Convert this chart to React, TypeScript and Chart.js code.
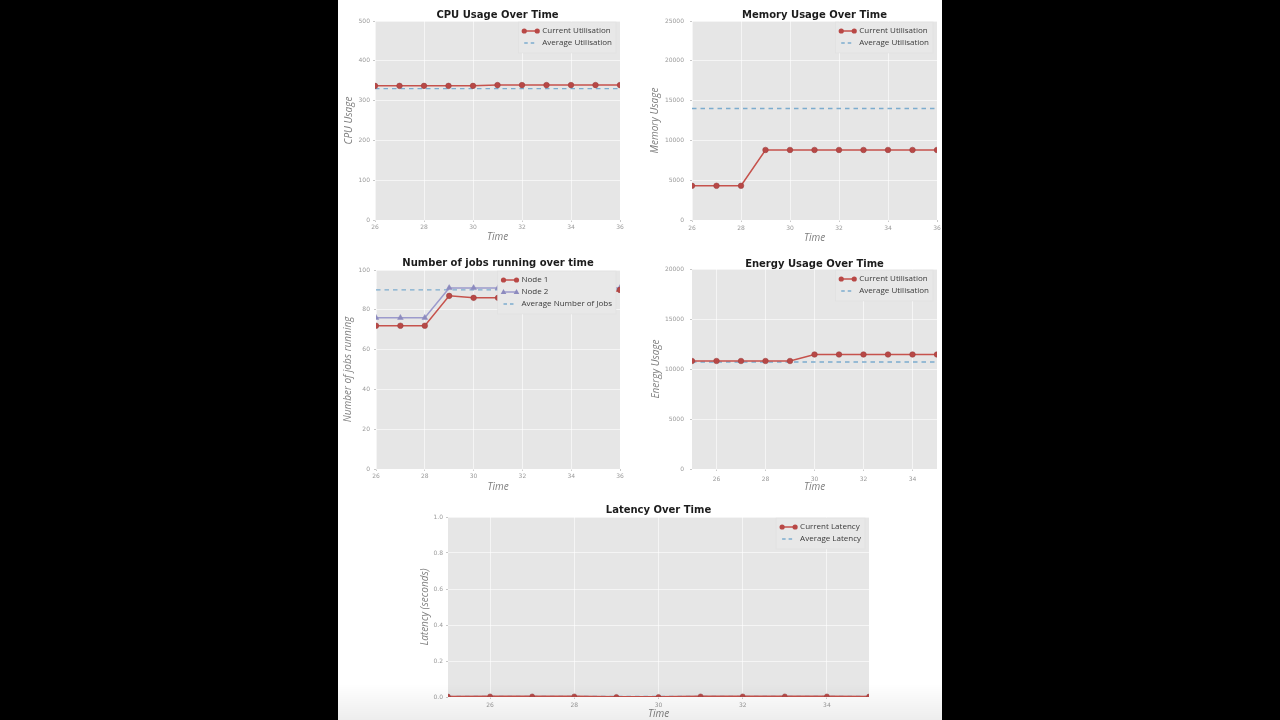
import React, { useEffect, useRef } from "react";
import { Chart, registerables } from "chart.js";

Chart.register(...registerables);

// ---------------- data ----------------
const cpuTime = [26, 27, 28, 29, 30, 31, 32, 33, 34, 35, 36];
const cpuCurrent = [337, 337, 337, 337, 337, 339, 339, 339, 339, 339, 339];
const cpuAverage = [330, 330, 330, 330, 330, 330, 330, 330, 330, 330, 330];
const cpuXTicks = [26, 28, 30, 32, 34, 36];
const cpuYTicks = [0, 100, 200, 300, 400, 500];

const memTime = [26, 27, 28, 29, 30, 31, 32, 33, 34, 35, 36];
const memCurrent = [4300, 4300, 4300, 8800, 8800, 8800, 8800, 8800, 8800, 8800, 8800];
const memAverage = [14000, 14000, 14000, 14000, 14000, 14000, 14000, 14000, 14000, 14000, 14000];
const memXTicks = [26, 28, 30, 32, 34, 36];
const memYTicks = [0, 5000, 10000, 15000, 20000, 25000];

const jobsTime = [26, 27, 28, 29, 30, 31, 32, 33, 34, 35, 36];
const jobsNode1 = [72, 72, 72, 87, 86, 86, 86, 86, 86, 86, 90];
const jobsNode2 = [76, 76, 76, 91, 91, 91, 91, 91, 91, 91, 91];
const jobsAverage = [90, 90, 90, 90, 90, 90, 90, 90, 90, 90, 90];
const jobsXTicks = [26, 28, 30, 32, 34, 36];
const jobsYTicks = [0, 20, 40, 60, 80, 100];

const energyTime = [25, 26, 27, 28, 29, 30, 31, 32, 33, 34, 35];
const energyCurrent = [10800, 10800, 10800, 10800, 10800, 11450, 11450, 11450, 11450, 11450, 11450];
const energyAverage = [10700, 10700, 10700, 10700, 10700, 10700, 10700, 10700, 10700, 10700, 10700];
const energyXTicks = [26, 28, 30, 32, 34];
const energyYTicks = [0, 5000, 10000, 15000, 20000];

const latencyTime = [25, 26, 27, 28, 29, 30, 31, 32, 33, 34, 35];
const latencyCurrent = [0.003, 0.004, 0.004, 0.004, 0.001, 0.001, 0.004, 0.004, 0.004, 0.004, 0.003];
const latencyAverage = [0.003, 0.003, 0.003, 0.003, 0.003, 0.003, 0.003, 0.003, 0.003, 0.003, 0.003];
const latencyXTicks = [26, 28, 30, 32, 34];
const latencyYTicks = [0, 0.2, 0.4, 0.6, 0.8, 1.0];

// ---------------- styles ----------------
const RED = "rgb(198, 82, 76)";
const RED_MARK = "rgb(184, 72, 70)";
const RED_EDGE = "rgb(150, 60, 60)";
const BLUE_DASH = "rgb(124, 172, 206)";
const PURPLE = "rgb(156, 154, 204)";
const PURPLE_MARK = "rgb(140, 138, 190)";
const AXES_BG = "#e6e6e6";
const GRID = "rgba(255,255,255,0.6)";

type LegendItem = { label: string; color: string; markColor?: string; marker: "circle" | "triangle" | null; dashed: boolean };

function lineSeries(label: string, xs: number[], ys: number[], color: string, markColor: string, marker: "circle" | "triangle" | null, dashed: boolean, radius = 2.8) {
  return {
    label,
    data: xs.map((x, i) => ({ x, y: ys[i] })),
    borderColor: color,
    backgroundColor: markColor,
    borderWidth: dashed ? 1.4 : 1.5,
    borderDash: dashed ? [4.5, 4] : [],
    pointRadius: marker ? radius : 0,
    pointStyle: marker || "circle",
    pointBackgroundColor: markColor,
    pointBorderColor: marker === "triangle" ? PURPLE_MARK : RED_EDGE,
    pointBorderWidth: 0.5,
    tension: 0,
    clip: { left: 0.001, top: 0.001, right: 0.001, bottom: 0.001 },
  };
}

const decorPlugin = {
  id: "mplDecor",
  beforeDraw(chart: any) {
    const { ctx, chartArea: a } = chart;
    ctx.save();
    ctx.fillStyle = AXES_BG;
    ctx.fillRect(a.left, a.top, a.right - a.left, a.bottom - a.top);
    ctx.restore();
  },
  afterDatasetsDraw(chart: any, _a: any, opts: any) {
    const { ctx, chartArea: a } = chart;
    const items: LegendItem[] = opts.items || [];
    ctx.save();
    ctx.font = '8px "Open Sans"';
    const maxW = Math.max(...items.map((it) => ctx.measureText(it.label).width));
    const right = a.right - 4;
    const width = 24 + maxW + 4;
    const left = right - width;
    const top = a.top + 1;
    const height = items.length * 12 + 7;
    ctx.fillStyle = "#e8e8e8";
    ctx.fillRect(left, top, width, height);
    ctx.strokeStyle = "rgba(220,220,220,0.8)";
    ctx.lineWidth = 0.5;
    ctx.strokeRect(left, top, width, height);
    items.forEach((it, i) => {
      const y = a.top + 10 + i * 12;
      const x0 = left + 6;
      const x1 = left + 19;
      ctx.strokeStyle = it.color;
      ctx.lineWidth = 1.5;
      ctx.setLineDash(it.dashed ? [3.5, 3] : []);
      ctx.beginPath();
      ctx.moveTo(x0, y);
      ctx.lineTo(x1, y);
      ctx.stroke();
      ctx.setLineDash([]);
      if (it.marker) {
        ctx.fillStyle = it.markColor || it.color;
        for (const mx of [x0, x1]) {
          ctx.beginPath();
          if (it.marker === "circle") {
            ctx.arc(mx, y, 2.6, 0, Math.PI * 2);
          } else {
            ctx.moveTo(mx, y - 3);
            ctx.lineTo(mx + 2.8, y + 2);
            ctx.lineTo(mx - 2.8, y + 2);
            ctx.closePath();
          }
          ctx.fill();
        }
      }
      ctx.fillStyle = "#3a3a3a";
      ctx.textAlign = "left";
      ctx.textBaseline = "middle";
      ctx.fillText(it.label, left + 24, y);
    });
    ctx.restore();
  },
  afterDraw(chart: any, _a: any, opts: any) {
    const { ctx, chartArea: a } = chart;
    ctx.save();
    ctx.font = 'bold 10px "DejaVu Sans"';
    ctx.fillStyle = "#1c1c1c";
    ctx.textAlign = "center";
    ctx.textBaseline = "middle";
    ctx.fillText(opts.title, (a.left + a.right) / 2, a.top - opts.titleOffset);
    ctx.restore();
  },
};

interface PanelSpec {
  left: number;
  top: number;
  width: number;
  height: number;
  W: number;
  T: number;
  R: number;
  H: number;
  title: string;
  titleOffset: number;
  xTitle: string;
  yTitle: string;
  xMin: number;
  xMax: number;
  xTicks: number[];
  yMin: number;
  yMax: number;
  yTicks: number[];
  yDecimals: number;
  yTitleOffset: number;
  xTitleOffset: number;
  yTickPad: number;
  xTickPad: number;
  datasets: any[];
  legend: LegendItem[];
}

const AXIS_TITLE_SIZE = 10;

function Panel({ spec }: { spec: PanelSpec }) {
  const ref = useRef<HTMLCanvasElement | null>(null);
  useEffect(() => {
    if (!ref.current) return;
    const tickFont = { family: '"DejaVu Sans"', size: 6 };
    const titleFont = { family: '"Open Sans"', style: "italic" as const, size: AXIS_TITLE_SIZE, lineHeight: 1 };
    const half = AXIS_TITLE_SIZE / 2;
    const chart = new Chart(ref.current, {
      type: "line",
      data: { datasets: spec.datasets },
      plugins: [decorPlugin],
      options: {
        animation: false,
        responsive: false,
        devicePixelRatio: 1,
        layout: { padding: { top: spec.T, right: spec.R, left: 0, bottom: 0 } },
        plugins: {
          legend: { display: false },
          title: { display: false },
          tooltip: { enabled: false },
          mplDecor: { items: spec.legend, title: spec.title, titleOffset: spec.titleOffset },
        } as any,
        scales: {
          x: {
            type: "linear",
            min: spec.xMin,
            max: spec.xMax,
            afterBuildTicks: (s: any) => {
              s.ticks = spec.xTicks.map((v) => ({ value: v }));
            },
            afterFit: (s: any) => {
              s.height = spec.H;
              s.paddingLeft = 0;
              s.paddingRight = 0;
            },
            grid: { color: GRID, lineWidth: 1, tickColor: "#c8c8c8", tickLength: 2, drawTicks: true },
            border: { display: false },
            ticks: {
              font: tickFont,
              color: "#9a9a9a",
              padding: spec.xTickPad,
              maxRotation: 0,
              autoSkip: false,
              callback: (v: any) => String(v),
            },
            title: { display: true, text: spec.xTitle, font: titleFont, color: "#7d7d7d", padding: { top: 0, bottom: spec.xTitleOffset - half } },
          },
          y: {
            type: "linear",
            min: spec.yMin,
            max: spec.yMax,
            afterBuildTicks: (s: any) => {
              s.ticks = spec.yTicks.map((v) => ({ value: v }));
            },
            afterFit: (s: any) => {
              s.width = spec.W;
              s.paddingTop = 0;
              s.paddingBottom = 0;
            },
            grid: { color: GRID, lineWidth: 1, tickColor: "#c8c8c8", tickLength: 2, drawTicks: true },
            border: { display: false },
            ticks: {
              font: tickFont,
              color: "#9a9a9a",
              padding: spec.yTickPad,
              autoSkip: false,
              callback: (v: any) => Number(v).toFixed(spec.yDecimals),
            },
            title: { display: true, text: spec.yTitle, font: titleFont, color: "#7d7d7d", padding: { top: spec.yTitleOffset - half, bottom: 0 } },
          },
        },
      },
    });
    return () => chart.destroy();
  }, [spec]);
  return (
    <canvas
      ref={ref}
      width={spec.width}
      height={spec.height}
      style={{ position: "absolute", left: spec.left, top: spec.top, width: spec.width, height: spec.height }}
    />
  );
}

const utilLegend: LegendItem[] = [
  { label: "Current Utilisation", color: RED, markColor: RED_MARK, marker: "circle", dashed: false },
  { label: "Average Utilisation", color: BLUE_DASH, marker: null, dashed: true },
];

const specs: PanelSpec[] = [
  {
    left: 338, top: 0, width: 302, height: 250, W: 37, T: 21, R: 20, H: 30,
    title: "CPU Usage Over Time", titleOffset: 6, xTitle: "Time", yTitle: "CPU Usage",
    xMin: 26, xMax: 36, xTicks: cpuXTicks, yMin: 0, yMax: 500, yTicks: cpuYTicks, yDecimals: 0,
    yTitleOffset: 11, xTitleOffset: 12.5, yTickPad: 3, xTickPad: 2,
    datasets: [
      lineSeries("Current Utilisation", cpuTime, cpuCurrent, RED, RED_MARK, "circle", false),
      lineSeries("Average Utilisation", cpuTime, cpuAverage, BLUE_DASH, BLUE_DASH, null, true),
    ],
    legend: utilLegend,
  },
  {
    left: 640, top: 0, width: 302, height: 250, W: 52, T: 21, R: 5, H: 30,
    title: "Memory Usage Over Time", titleOffset: 6, xTitle: "Time", yTitle: "Memory Usage",
    xMin: 26, xMax: 36, xTicks: memXTicks, yMin: 0, yMax: 25000, yTicks: memYTicks, yDecimals: 0,
    yTitleOffset: 15, xTitleOffset: 12, yTickPad: 6, xTickPad: 3,
    datasets: [
      lineSeries("Current Utilisation", memTime, memCurrent, RED, RED_MARK, "circle", false),
      lineSeries("Average Utilisation", memTime, memAverage, BLUE_DASH, BLUE_DASH, null, true),
    ],
    legend: utilLegend,
  },
  {
    left: 338, top: 250, width: 302, height: 250, W: 38, T: 20, R: 20, H: 31,
    title: "Number of jobs running over time", titleOffset: 6.5, xTitle: "Time", yTitle: "Number of jobs running",
    xMin: 26, xMax: 36, xTicks: jobsXTicks, yMin: 0, yMax: 100, yTicks: jobsYTicks, yDecimals: 0,
    yTitleOffset: 10, xTitleOffset: 13, yTickPad: 4, xTickPad: 2,
    datasets: [
      lineSeries("Node 1", jobsTime, jobsNode1, RED, RED_MARK, "circle", false),
      lineSeries("Node 2", jobsTime, jobsNode2, PURPLE, PURPLE_MARK, "triangle", false, 3.3),
      lineSeries("Average Number of Jobs", jobsTime, jobsAverage, BLUE_DASH, BLUE_DASH, null, true),
    ],
    legend: [
      { label: "Node 1", color: RED, markColor: RED_MARK, marker: "circle", dashed: false },
      { label: "Node 2", color: PURPLE, markColor: PURPLE_MARK, marker: "triangle", dashed: false },
      { label: "Average Number of Jobs", color: BLUE_DASH, marker: null, dashed: true },
    ],
  },
  {
    left: 640, top: 250, width: 302, height: 250, W: 52, T: 19, R: 5, H: 31,
    title: "Energy Usage Over Time", titleOffset: 5, xTitle: "Time", yTitle: "Energy Usage",
    xMin: 25, xMax: 35, xTicks: energyXTicks, yMin: 0, yMax: 20000, yTicks: energyYTicks, yDecimals: 0,
    yTitleOffset: 16, xTitleOffset: 13, yTickPad: 6, xTickPad: 4.5,
    datasets: [
      lineSeries("Current Utilisation", energyTime, energyCurrent, RED, RED_MARK, "circle", false),
      lineSeries("Average Utilisation", energyTime, energyAverage, BLUE_DASH, BLUE_DASH, null, true),
    ],
    legend: utilLegend,
  },
  {
    left: 400, top: 500, width: 480, height: 220, W: 48, T: 17, R: 11, H: 23,
    title: "Latency Over Time", titleOffset: 7, xTitle: "Time", yTitle: "Latency (seconds)",
    xMin: 25, xMax: 35, xTicks: latencyXTicks, yMin: 0, yMax: 1.0, yTicks: latencyYTicks, yDecimals: 1,
    yTitleOffset: 25, xTitleOffset: 6, yTickPad: 3, xTickPad: 3,
    datasets: [
      lineSeries("Current Latency", latencyTime, latencyCurrent, RED, RED_MARK, "circle", false, 2.4),
      lineSeries("Average Latency", latencyTime, latencyAverage, BLUE_DASH, BLUE_DASH, null, true),
    ],
    legend: [
      { label: "Current Latency", color: RED, markColor: RED_MARK, marker: "circle", dashed: false },
      { label: "Average Latency", color: BLUE_DASH, marker: null, dashed: true },
    ],
  },
];

export default function App() {
  return (
    <div style={{ position: "fixed", left: 0, top: 0, width: 1280, height: 720, background: "#000", overflow: "hidden" }}>
      <div style={{ position: "absolute", left: 338, top: 0, width: 604, height: 720, background: "#fff" }} />
      {specs.map((s, i) => (
        <Panel key={i} spec={s} />
      ))}
      <div
        style={{
          position: "absolute",
          left: 338,
          top: 684,
          width: 604,
          height: 36,
          background: "linear-gradient(to bottom, rgba(0,0,0,0), rgba(0,0,0,0.07))",
          pointerEvents: "none",
        }}
      />
    </div>
  );
}
